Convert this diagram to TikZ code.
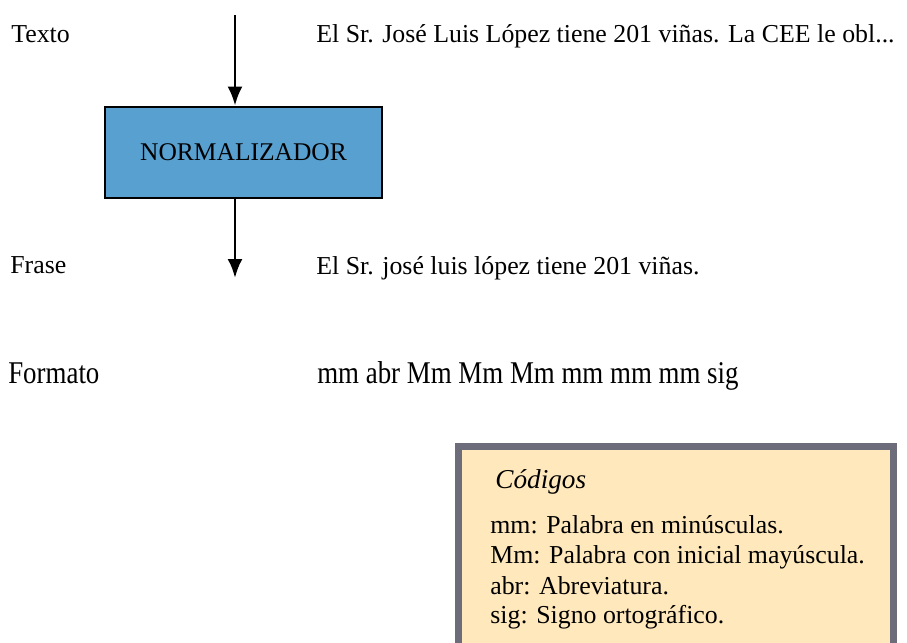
\documentclass[tikz,border=0pt]{standalone}
\usepackage{fontspec}
\setmainfont{Liberation Serif}
\usepackage{xcolor}
\definecolor{colorb}{RGB}{88,160,208}
\definecolor{colory}{RGB}{255,233,188}
\definecolor{colorg}{RGB}{108,108,122}
\usepackage{tikz}
\usetikzlibrary{arrows.meta}
\tikzstyle{txt} = [anchor=base west, inner sep=0pt, font=\fontsize{14.7}{17}\selectfont]
\tikzstyle{big} = [font=\fontsize{18}{21}\selectfont, xscale=0.85]
\tikzstyle{blockN} = [rectangle, fill=colorb, draw=black, ultra thick, minimum width=5.54cm, minimum height=1.82cm, font=\fontsize{14.5}{17}\selectfont]
\tikzstyle{legendbox} = [rectangle, fill=colory, draw=colorg, line width=4pt, anchor=north west, minimum width=8.7cm, minimum height=5cm]
\tikzstyle{flow} = [-{Latex[length=0.38cm,width=0.3cm]}, ultra thick]

\begin{document}
\begin{tikzpicture}
  \useasboundingbox (0,0) rectangle (18.14,-12.84);

  % input text and normalizer
  \node[txt] (texto) at (0.22,-0.84) {Texto};
  \node[txt] (s1) at (6.32,-0.85) {El Sr. José Luis López tiene 201 viñas. La CEE le obl...};
  \coordinate (in) at (4.7,-0.3);
  \node[blockN] (norm) at (4.87,-3.05) {NORMALIZADOR};
  \coordinate (out) at (4.7,-5.56);
  \draw[flow] (in) -- (in |- norm.north);
  \draw[flow] (out |- norm.south) -- (out);

  % normalized sentence
  \node[txt] (frase) at (0.2,-5.46) {Frase};
  \node[txt] (s2) at (6.32,-5.48) {El Sr. josé luis lópez tiene 201 viñas.};

  % format codes
  \node[txt,big] (formato) at (0.16,-7.66) {Formato};
  \node[txt,big] (codes) at (6.34,-7.66) {mm abr Mm Mm Mm mm mm mm sig};

  % legend
  \node[legendbox] (box) at (9.1,-8.86) {};
  \node[txt,font=\fontsize{15.5}{18}\selectfont\itshape] (cod) at (9.9,-9.76) {Códigos};
  \node[txt] (l1) at (9.8,-10.66) {mm: Palabra en minúsculas.};
  \node[txt] (l2) at (9.8,-11.26) {Mm: Palabra con inicial mayúscula.};
  \node[txt] (l3) at (9.8,-11.88) {abr: Abreviatura.};
  \node[txt] (l4) at (9.8,-12.46) {sig: Signo ortográfico.};
\end{tikzpicture}
\end{document}
